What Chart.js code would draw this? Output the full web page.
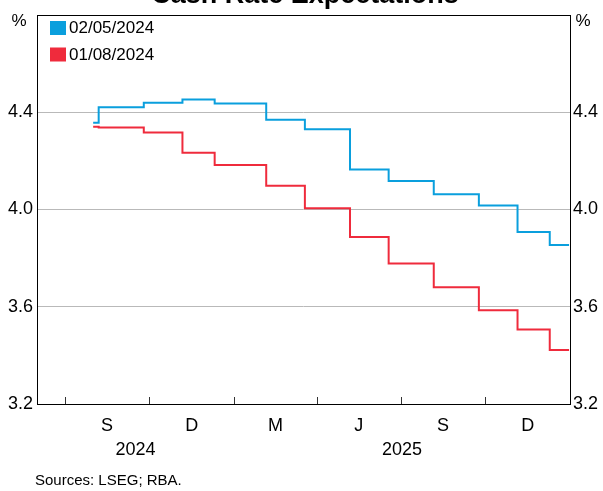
<!DOCTYPE html>
<html>
<head>
<meta charset="utf-8">
<script src="https://cdn.jsdelivr.net/npm/chart.js@4.4.1/dist/chart.umd.min.js"></script>
<style>
  body { margin: 0; background: #fff; }
  #wrap { width: 603px; height: 491px; }
</style>
</head>
<body>
<div id="wrap"><canvas id="chart" width="603" height="491"></canvas></div>
<script>
// Dates at which the expected cash rate changes (RBA meeting dates), plus the end point
const stepDates = ['2024-08-01', '2024-08-07', '2024-09-25', '2024-11-06', '2024-12-11',
    '2025-02-05', '2025-03-19', '2025-05-07', '2025-06-18', '2025-08-06',
    '2025-09-24', '2025-11-05', '2025-12-10', '2025-12-31'];

// Market expectations, per cent
const may2024 = [4.356, 4.420, 4.438, 4.452, 4.435, 4.369, 4.329, 4.164, 4.117, 4.062,
    4.016, 3.907, 3.854, 3.854];
const aug2024 = [4.340, 4.337, 4.316, 4.233, 4.183, 4.097, 4.005, 3.887, 3.778, 3.680,
    3.585, 3.506, 3.422, 3.422];

const seriesLabels = ['02/05/2024', '01/08/2024'];
const seriesColors = ['#0a9fdd', '#ef2b3c'];

// Axis setup
const xStart = '2024-06-01';
const xEnd = '2026-01-01';
const quarterBounds = ['2024-07-01', '2024-10-01', '2025-01-01', '2025-04-01',
    '2025-07-01', '2025-10-01', '2026-01-01'];
const quarterLabels = ['S', 'D', 'M', 'J', 'S', 'D'];
const yearBounds = ['2024-06-01', '2025-01-01', '2026-01-01'];
const yearLabels = ['2024', '2025'];
const yTicks = [3.2, 3.6, 4.0, 4.4, 4.8];

const FONT = '"Liberation Sans", Arial, sans-serif';
const t = d => new Date(d).getTime();

function toPoints(values) {
    return values.map((v, i) => ({ x: t(stepDates[i]), y: v }));
}

// Mid points for the quarter and year labels
const quarterMids = quarterLabels.map((l, i) => (t(quarterBounds[i]) + t(quarterBounds[i + 1])) / 2);
const yearMids = yearLabels.map((l, i) => (t(yearBounds[i]) + t(yearBounds[i + 1])) / 2);

// Frame, inward ticks, title, legend, % signs and sources
const decorations = {
    id: 'decorations',
    afterDraw(chart) {
        const ctx = chart.ctx;
        const area = chart.chartArea;
        const xScale = chart.scales.x;
        ctx.save();

        // quarter tick marks pointing into the plot
        ctx.strokeStyle = '#333';
        ctx.lineWidth = 1;
        quarterBounds.slice(0, -1).forEach(d => {
            const px = Math.round(xScale.getPixelForValue(t(d))) + 0.5;
            ctx.beginPath();
            ctx.moveTo(px, area.bottom);
            ctx.lineTo(px, area.bottom - 7);
            ctx.stroke();
        });

        // plot frame
        ctx.strokeStyle = '#000';
        ctx.strokeRect(Math.round(area.left) + 0.5, Math.round(area.top) + 0.5,
            Math.round(area.right - area.left), Math.round(area.bottom - area.top));

        // title, cut off at the top like the original
        ctx.fillStyle = '#000';
        ctx.font = 'bold 27px ' + FONT;
        ctx.textAlign = 'center';
        ctx.textBaseline = 'alphabetic';
        ctx.fillText('Cash Rate Expectations', 305, 3);

        // % units
        ctx.font = '17px ' + FONT;
        ctx.textBaseline = 'middle';
        ctx.textAlign = 'center';
        ctx.fillText('%', 19, 21);
        ctx.fillText('%', 583, 21);

        // legend
        ctx.textAlign = 'left';
        chart.data.datasets.forEach((ds, i) => {
            const y = 21 + i * 26.5;
            ctx.fillStyle = ds.borderColor;
            ctx.fillRect(50, y, 16, 14);
            ctx.fillStyle = '#000';
            ctx.fillText(ds.label, 69, y + 7.5);
        });

        // sources
        ctx.font = '15px ' + FONT;
        ctx.fillText('Sources: LSEG; RBA.', 35, 481);
        ctx.restore();
    }
};

const ctx = document.getElementById('chart').getContext('2d');
new Chart(ctx, {
    type: 'line',
    data: {
        datasets: [
            {
                label: seriesLabels[0],
                data: toPoints(may2024),
                borderColor: seriesColors[0],
                backgroundColor: seriesColors[0],
                borderWidth: 2,
                pointRadius: 0,
                stepped: 'before',
                fill: false
            },
            {
                label: seriesLabels[1],
                data: toPoints(aug2024),
                borderColor: seriesColors[1],
                backgroundColor: seriesColors[1],
                borderWidth: 2,
                pointRadius: 0,
                stepped: 'before',
                fill: false
            }
        ]
    },
    options: {
        responsive: false,
        animation: false,
        layout: { padding: { top: 13, bottom: 31, left: 0, right: 0 } },
        plugins: {
            legend: { display: false },
            tooltip: { enabled: false }
        },
        scales: {
            x: {
                type: 'linear',
                position: 'bottom',
                weight: 0,
                min: t(xStart),
                max: t(xEnd),
                afterBuildTicks: scale => {
                    scale.ticks = quarterMids.map(v => ({ value: v }));
                },
                afterFit: scale => { scale.height = 27; },
                grid: { display: false },
                border: { display: false },
                ticks: {
                    autoSkip: false,
                    maxRotation: 0,
                    padding: 3,
                    color: '#000',
                    font: { family: FONT, size: 18 },
                    callback: (value, index) => quarterLabels[index]
                }
            },
            x2: {
                type: 'linear',
                position: 'bottom',
                weight: 1,
                min: t(xStart),
                max: t(xEnd),
                afterBuildTicks: scale => {
                    scale.ticks = yearMids.map(v => ({ value: v }));
                },
                afterFit: scale => { scale.height = 29; },
                grid: { display: false },
                border: { display: false },
                ticks: {
                    autoSkip: false,
                    maxRotation: 0,
                    padding: 0,
                    color: '#000',
                    font: { family: FONT, size: 18 },
                    callback: (value, index) => yearLabels[index]
                }
            },
            y: {
                position: 'left',
                min: yTicks[0],
                max: yTicks[yTicks.length - 1],
                afterBuildTicks: scale => {
                    scale.ticks = yTicks.map(v => ({ value: v }));
                },
                afterFit: scale => { scale.width = 37; },
                grid: {
                    drawTicks: false,
                    color: c => (c.tick && (c.tick.value === 3.2 || c.tick.value === 4.8)) ? 'rgba(0,0,0,0)' : '#b9b9b9'
                },
                border: { display: false },
                ticks: {
                    padding: 4,
                    color: '#000',
                    font: { family: FONT, size: 18 },
                    callback: v => (v === 4.8 ? '' : v.toFixed(1))
                }
            },
            y2: {
                position: 'right',
                min: yTicks[0],
                max: yTicks[yTicks.length - 1],
                afterBuildTicks: scale => {
                    scale.ticks = yTicks.map(v => ({ value: v }));
                },
                afterFit: scale => { scale.width = 33; },
                grid: { drawOnChartArea: false, drawTicks: false },
                border: { display: false },
                ticks: {
                    padding: 3,
                    color: '#000',
                    font: { family: FONT, size: 18 },
                    callback: v => (v === 4.8 ? '' : v.toFixed(1))
                }
            }
        }
    },
    plugins: [decorations]
});
</script>
</body>
</html>
